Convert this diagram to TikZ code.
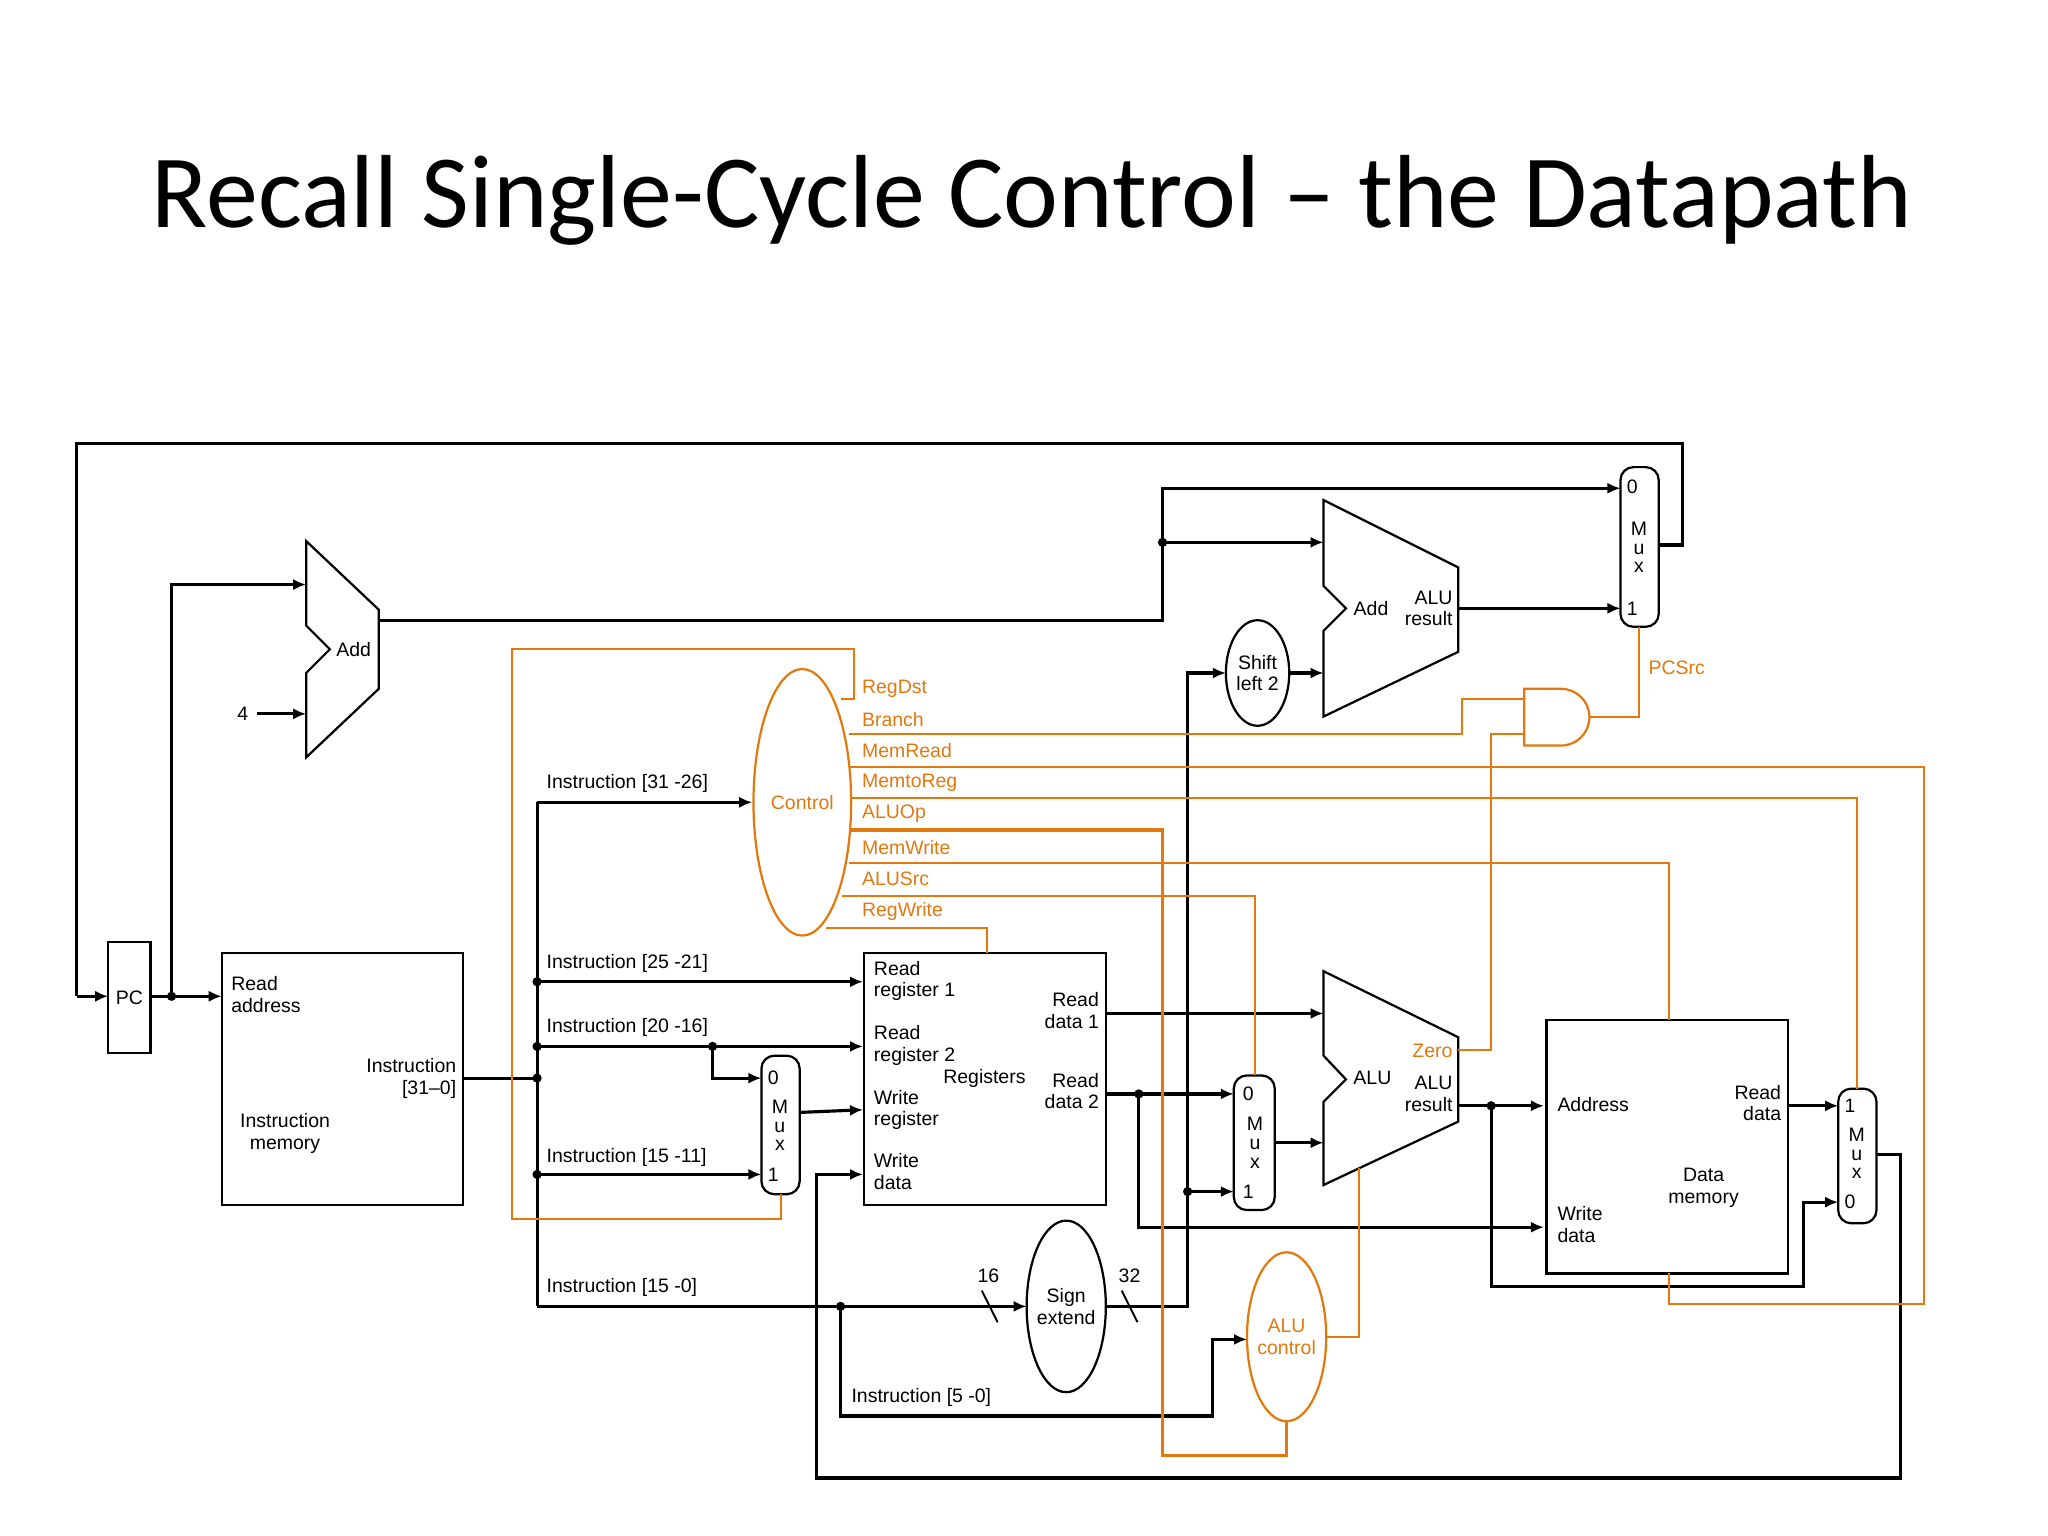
\documentclass[tikz,border=0pt]{standalone}
\usepackage{fontspec}
\setmainfont{Liberation Sans}
\newfontfamily\titlefont{Carlito}
\usetikzlibrary{arrows.meta}
\definecolor{ctl}{rgb}{0.89,0.47,0.05}
\begin{document}
\begin{tikzpicture}[x=0.25mm,y=-0.25mm,
  wire/.style={line width=1.7pt,line join=miter},
  arr/.style={wire,-{Latex[length=7pt,width=6pt]}},
  cw/.style={ctl,line width=1.1pt},
  box/.style={draw,line width=1.2pt},
  lbl/.style={font=\fontsize{10.5}{11.6}\selectfont,align=left,inner sep=0pt},
  clbl/.style={lbl,text=ctl},
  dot/.style={circle,fill,inner sep=0pt,minimum size=5pt},
  muxs/.style={draw,line width=1.2pt,rounded corners=7pt}]
\useasboundingbox (0,0) rectangle (1552,1164);
\node[font=\titlefont\fontsize{56}{62}\selectfont] (title) at (782,152) {Recall Single-Cycle Control – the Datapath};

% boxes
\draw[box] (82,714) rectangle (114,798); \node[lbl] (pc) at (98,756) {PC};
\draw[box] (168,722) rectangle (351,913);
\node[lbl,anchor=north west] (ra) at (175,740) {Read\\address};
\node[lbl,align=right,anchor=north east] (io) at (346,802) {Instruction\\{}[31–0]};
\node[lbl,align=center] (im) at (216,859) {Instruction\\memory};
\draw[box] (655,722) rectangle (838,913);
\node[lbl,anchor=north west] at (662,728) {Read\\register 1};
\node[lbl,anchor=north west] at (662,777) {Read\\register 2};
\node[lbl,anchor=north west] at (662,826) {Write\\register};
\node[lbl,anchor=north west] at (662,874) {Write\\data};
\node[lbl] at (746,817) {Registers};
\node[lbl,align=right,anchor=north east] at (833,752) {Read\\data 1};
\node[lbl,align=right,anchor=north east] at (833,813) {Read\\data 2};
\draw[box] (1172,773) rectangle (1355,965);
\node[lbl,anchor=west] at (1180,837) {Address};
\node[lbl,align=right,anchor=north east] at (1350,822) {Read\\data};
\node[lbl,align=center] at (1291,900) {Data\\memory};
\node[lbl,anchor=north west] at (1180,914) {Write\\data};

% adders / ALU
\draw[box] (232,410)--(287,462)--(287,522)--(232,574)--(232,510)--(250,492)--(232,474)--cycle;
\node[lbl] at (268,492) {Add};
\draw[box] (1003,379)--(1105,430)--(1105,494)--(1003,543)--(1003,478)--(1020,461)--(1003,444)--cycle;
\node[lbl] at (1039,461) {Add};
\node[lbl,align=right,anchor=east] at (1101,461) {ALU\\result};
\draw[box] (1003,736)--(1105,786)--(1105,850)--(1003,898)--(1003,835)--(1020,818)--(1003,800)--cycle;
\node[lbl] at (1040,817) {ALU};
\node[clbl,anchor=east] at (1101,796) {Zero};
\node[lbl,align=right,anchor=east] at (1101,829) {ALU\\result};

% muxes
\draw[muxs] (1228,354) rectangle (1257,475);
\node[lbl] at (1237,369) {0}; \node[lbl,align=center,font=\fontsize{10.5}{10}\selectfont] at (1242,415) {M\\u\\x}; \node[lbl] at (1237,461) {1};
\draw[muxs] (577,800) rectangle (606,905);
\node[lbl] at (586,817) {0}; \node[lbl,align=center,font=\fontsize{10.5}{10}\selectfont] at (591,853) {M\\u\\x}; \node[lbl] at (586,890) {1};
\draw[muxs] (935,815) rectangle (966,917);
\node[lbl] at (946,829) {0}; \node[lbl,align=center,font=\fontsize{10.5}{10}\selectfont] at (951,866) {M\\u\\x}; \node[lbl] at (946,903) {1};
\draw[muxs] (1393,825) rectangle (1422,927);
\node[lbl] at (1402,838) {1}; \node[lbl,align=center,font=\fontsize{10.5}{10}\selectfont] at (1407,874) {M\\u\\x}; \node[lbl] at (1402,911) {0};

% ellipses
\draw[box] (953,510) ellipse [x radius=24,y radius=40];
\node[lbl,align=center] at (953,510) {Shift\\left 2};
\draw[box] (808,990) ellipse [x radius=30,y radius=65];
\node[lbl,align=center] at (808,990) {Sign\\extend};
\draw[box,ctl] (608,608) ellipse [x radius=37,y radius=101];
\node[clbl] at (608,608) {Control};
\draw[box,ctl] (975,1013) ellipse [x radius=30,y radius=64];
\node[clbl,align=center] at (975,1013) {ALU\\control};
\draw[box,ctl] (1155,522)--(1183,522) arc[start angle=-90,end angle=90,radius=21.5]--(1155,565)--cycle;

% black wires
\draw[wire] (1257,413)--(1275,413)--(1275,336)--(58,336)--(58,755);
\draw[arr] (58,755)--(82,755);
\draw[arr] (114,755)--(168,755);
\node[dot] at (130,755) {};
\draw[arr] (130,755)--(130,443)--(232,443);
\node[lbl] at (184,541) {4};
\draw[arr] (195,541)--(232,541);
\draw[arr] (287,470)--(881,470)--(881,370)--(1228,370);
\node[dot] at (881,411) {};
\draw[arr] (881,411)--(1003,411);
\draw[arr] (1105,461)--(1228,461);
\draw[arr] (977,510)--(1003,510);
\draw[arr] (838,990)--(900,990)--(900,510)--(929,510);
\node[dot] at (900,903) {};
\draw[arr] (900,903)--(935,903);
\draw[wire] (351,817)--(407,817);
\node[dot] at (407,817) {};
\draw[wire] (407,608)--(407,990);
\draw[arr] (407,608)--(570,608);
\node[lbl,anchor=south west] at (414,601) {Instruction [31 -26]};
\node[dot] at (407,744) {};
\draw[arr] (407,744)--(654,744);
\node[lbl,anchor=south west] at (414,737) {Instruction [25 -21]};
\node[dot] at (407,793) {};
\draw[arr] (407,793)--(654,793);
\node[lbl,anchor=south west] at (414,786) {Instruction [20 -16]};
\node[dot] at (540,793) {};
\draw[arr] (540,793)--(540,817)--(577,817);
\node[dot] at (407,890) {};
\draw[arr] (407,890)--(577,890);
\node[lbl,anchor=south west] at (414,884) {Instruction [15 -11]};
\draw[arr] (407,990)--(778,990);
\node[lbl,anchor=south west] at (414,983) {Instruction [15 -0]};
\node[dot] at (637,990) {};
\draw[arr] (637,990)--(637,1073)--(919,1073)--(919,1015)--(945,1015);
\node[lbl,anchor=south west] at (645,1066) {Instruction [5 -0]};
\draw[line width=1pt] (744,978)--(756,1002); \node[lbl] at (749,967) {16};
\draw[line width=1pt] (850,978)--(862,1002); \node[lbl] at (856,967) {32};
\draw[arr] (606,843)--(654,841);
\draw[arr] (838,768)--(1003,768);
\node[dot] at (863,829) {};
\draw[arr] (838,829)--(935,829);
\draw[arr] (863,829)--(863,930)--(1170,930);
\draw[arr] (966,866)--(1003,866);
\node[dot] at (1130,838) {};
\draw[arr] (1105,838)--(1170,838);
\draw[arr] (1130,838)--(1130,975)--(1367,975)--(1367,911)--(1393,911);
\draw[arr] (1355,838)--(1393,838);
\draw[arr] (1422,875)--(1440,875)--(1440,1120)--(619,1120)--(619,890)--(654,890);

% control wires
\draw[cw] (637,530)--(647,530)--(647,492)--(388,492)--(388,924)--(592,924)--(592,905);
\draw[cw] (643,556)--(1108,556)--(1108,530)--(1155,530);
\draw[cw] (1105,796)--(1130,796)--(1130,556)--(1155,556);
\draw[cw] (1204,543)--(1242,543)--(1242,475);
\node[clbl,anchor=west] at (1249,506) {PCSrc};
\draw[cw] (644,581)--(1458,581)--(1458,988)--(1265,988)--(1265,965);
\draw[cw] (644,605)--(1407,605)--(1407,825);
\draw[ctl,line width=2pt] (644,629)--(881,629)--(881,1103)--(975,1103)--(975,1077);
\draw[cw] (643,654)--(1265,654)--(1265,773);
\draw[cw] (638,679)--(951,679)--(951,815);
\draw[cw] (626,703)--(748,703)--(748,722);
\draw[cw] (1005,1013)--(1030,1013)--(1030,885);
\node[clbl,anchor=west] at (653,522) {RegDst};
\node[clbl,anchor=west] at (653,545) {Branch};
\node[clbl,anchor=west] at (653,569) {MemRead};
\node[clbl,anchor=west] at (653,593) {MemtoReg};
\node[clbl,anchor=west] at (653,617) {ALUOp};
\node[clbl,anchor=west] at (653,642) {MemWrite};
\node[clbl,anchor=west] at (653,666) {ALUSrc};
\node[clbl,anchor=west] at (653,691) {RegWrite};
\end{tikzpicture}
\end{document}
